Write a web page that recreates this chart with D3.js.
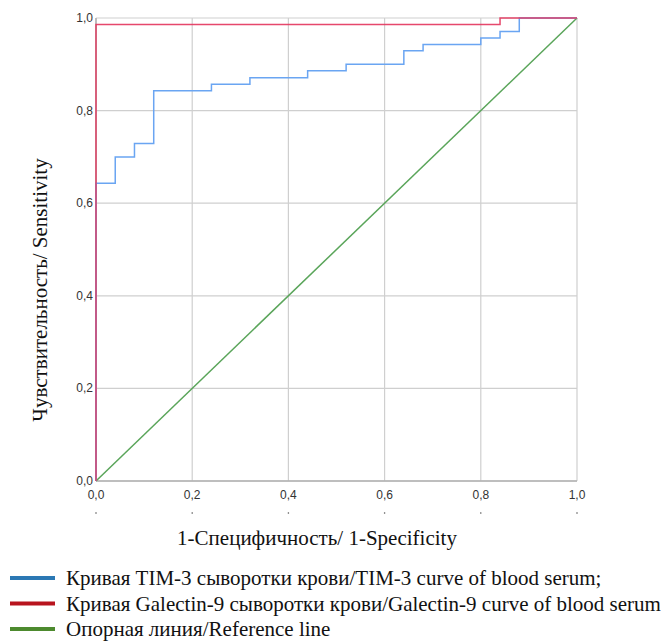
<!DOCTYPE html>
<html>
<head>
<meta charset="utf-8">
<script src="https://cdn.jsdelivr.net/npm/d3@7"></script>
<style>
  body { margin: 0; background: #fff; }
  .tick-label { font-family: "Liberation Sans", Arial, sans-serif; font-size: 12px; fill: #333; }
  .title { font-family: "Liberation Serif", "Times New Roman", serif; font-size: 21px; fill: #111; }
  .legend-text { font-family: "Liberation Serif", "Times New Roman", serif; font-size: 21px; fill: #111; }
</style>
</head>
<body>
<div id="frame_div"></div>
<script>
// chart frame
const FRAME_WIDTH = 668;
const FRAME_HEIGHT = 641;
const PLOT = {left: 96, right: 577, top: 18, bottom: 481};

// ticks
const ticks = [0, 0.2, 0.4, 0.6, 0.8, 1.0];

// TIM-3 curve (1-specificity / sensitivity)
const tim3_fpr = [0, 0, 0.04, 0.08, 0.12, 0.24, 0.32, 0.44, 0.52, 0.64, 0.68, 0.80, 0.84, 0.88, 1.0];
const tim3_tpr = [0, 0.643, 0.700, 0.729, 0.843, 0.857, 0.871, 0.886, 0.900, 0.929, 0.943, 0.957, 0.971, 1.0, 1.0];

// Galectin-9 curve
const gal9_fpr = [0, 0, 0.84, 1.0];
const gal9_tpr = [0, 0.986, 1.0, 1.0];

// reference line
const ref_fpr = [0, 1];
const ref_tpr = [0, 1];

const legendLabels = [
  "Кривая TIM-3 сыворотки крови/TIM-3 curve of blood serum;",
  "Кривая Galectin-9 сыворотки крови/Galectin-9 curve of blood serum",
  "Опорная линия/Reference line"
];
const legendColors = ["#2b78b4", "#b8141e", "#4d8a2e"];

const FRAME = d3.select("#frame_div")
  .append("svg")
    .attr("width", FRAME_WIDTH)
    .attr("height", FRAME_HEIGHT);

const X_SCALE = d3.scaleLinear().domain([0, 1]).range([PLOT.left, PLOT.right]);
const Y_SCALE = d3.scaleLinear().domain([0, 1]).range([PLOT.bottom, PLOT.top]);

const fmt = (d) => d3.format(".1f")(d).replace(".", ",");

// gridlines
FRAME.selectAll(".vgrid")
  .data(ticks)
  .enter()
  .append("line")
    .attr("x1", (d) => X_SCALE(d)).attr("x2", (d) => X_SCALE(d))
    .attr("y1", PLOT.top).attr("y2", PLOT.bottom)
    .attr("stroke", "#cfcfcf").attr("stroke-width", 1.2);

FRAME.selectAll(".hgrid")
  .data(ticks)
  .enter()
  .append("line")
    .attr("x1", PLOT.left).attr("x2", PLOT.right)
    .attr("y1", (d) => Y_SCALE(d)).attr("y2", (d) => Y_SCALE(d))
    .attr("stroke", "#cfcfcf").attr("stroke-width", 1.2);

// axis lines
FRAME.append("line")
  .attr("x1", PLOT.left).attr("x2", PLOT.right)
  .attr("y1", PLOT.bottom).attr("y2", PLOT.bottom)
  .attr("stroke", "#b0b0b0").attr("stroke-width", 1.5);
FRAME.append("line")
  .attr("x1", PLOT.left).attr("x2", PLOT.left)
  .attr("y1", PLOT.top).attr("y2", PLOT.bottom)
  .attr("stroke", "#b0b0b0").attr("stroke-width", 1.5);

// tick labels
FRAME.selectAll(".ylab")
  .data(ticks)
  .enter()
  .append("text")
    .attr("class", "tick-label")
    .attr("x", PLOT.left - 3)
    .attr("y", (d) => Y_SCALE(d) + 4)
    .attr("text-anchor", "end")
    .text(fmt);

FRAME.selectAll(".xlab")
  .data(ticks)
  .enter()
  .append("text")
    .attr("class", "tick-label")
    .attr("x", (d) => X_SCALE(d))
    .attr("y", PLOT.bottom + 18)
    .attr("text-anchor", "middle")
    .text(fmt);

// little dots under the x labels
FRAME.selectAll(".xdot")
  .data(ticks)
  .enter()
  .append("circle")
    .attr("cx", (d) => X_SCALE(d))
    .attr("cy", PLOT.bottom + 32)
    .attr("r", 0.8)
    .attr("fill", "#555");

// curves
const line = d3.line()
  .x((d) => X_SCALE(d[0]))
  .y((d) => Y_SCALE(d[1]))
  .curve(d3.curveStepAfter);

const straight = d3.line()
  .x((d) => X_SCALE(d[0]))
  .y((d) => Y_SCALE(d[1]));

FRAME.append("path")
  .datum(d3.zip(ref_fpr, ref_tpr))
  .attr("d", straight)
  .attr("fill", "none").attr("stroke", "#5aa55a").attr("stroke-width", 1.5);

FRAME.append("path")
  .datum(d3.zip(tim3_fpr, tim3_tpr))
  .attr("d", line)
  .attr("fill", "none").attr("stroke", "#6aa5f2").attr("stroke-width", 1.5);

FRAME.append("path")
  .datum(d3.zip(gal9_fpr, gal9_tpr))
  .attr("d", line)
  .attr("fill", "none").attr("stroke", "#e3345c").attr("stroke-width", 1.5)
  .attr("stroke-opacity", 0.9);

// axis titles
FRAME.append("text")
  .attr("class", "title")
  .attr("x", 317)
  .attr("y", 545)
  .attr("text-anchor", "middle")
  .text("1-Специфичность/ 1-Specificity");

FRAME.append("text")
  .attr("class", "title")
  .attr("transform", "translate(47,290) rotate(-90)")
  .attr("text-anchor", "middle")
  .text("Чувствительность/ Sensitivity");

// legend
const LEG = FRAME.selectAll(".legend")
  .data(legendLabels)
  .enter()
  .append("g")
    .attr("transform", (d, i) => "translate(0," + (578 + i * 25.5) + ")");

LEG.append("line")
  .attr("x1", 10).attr("x2", 55)
  .attr("y1", 0).attr("y2", 0)
  .attr("stroke", (d, i) => legendColors[i])
  .attr("stroke-width", 4);

LEG.append("text")
  .attr("class", "legend-text")
  .attr("x", 66)
  .attr("y", 7)
  .text((d) => d);
</script>
</body>
</html>
